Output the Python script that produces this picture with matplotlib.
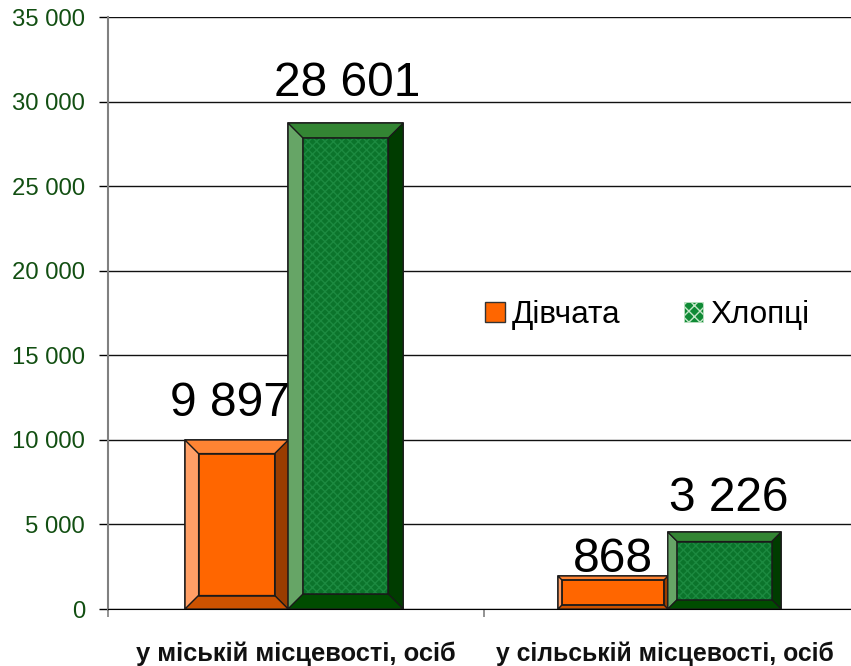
import matplotlib
matplotlib.use('Agg')
import matplotlib.pyplot as plt
from matplotlib.patches import Polygon, Patch

plt.rcParams['font.family'] = ['Liberation Sans', 'DejaVu Sans']
plt.rcParams['hatch.linewidth'] = 1.0

# data
categories = ['у міській місцевості, осіб', 'у сільській місцевості, осіб']
series = ['Дівчата', 'Хлопці']
girls_height = [9990, 1950]
boys_height = [28730, 4550]
girls_labels = ['9 897', '868']
boys_labels = ['28 601', '3 226']
y_ticks = [0, 5000, 10000, 15000, 20000, 25000, 30000, 35000]
y_tick_labels = ['0', '5 000', '10 000', '15 000', '20 000', '25 000', '30 000', '35 000']

# styles: bar edges in category units, bevel size in pixels
girls_edges = [(0.205, 0.479), (1.197, 1.489)]
boys_edges = [(0.479, 0.785), (1.489, 1.790)]
girls_bevel = [13.5, 4]
boys_bevel = [15, 9.5]
girls_offset = [(-7, 24), (0, 4)]
boys_offset = [(2, 27), (4, 21)]
orange = dict(face='#FF6600', left='#FF9F66', top='#FF8433', right='#993D00', bottom='#CC5200', hatch=None, dots=None)
green = dict(face='#0B742B', left='#66A566', top='#338533', right='#003C00', bottom='#004C00', hatch='xxxx', dots='#1C8A40')

PX_X = 376.0
PX_Y = 592.0 / 35000
EDGE = '#1A1A1A'

fig = plt.figure(figsize=(8.51, 6.66), dpi=100)
ax = fig.add_axes([108 / 851, 57 / 666, 743 / 851, 592 / 666])
ax.set_xlim(0, 743 / PX_X)
ax.set_ylim(0, 35000)


def draw_bar(x0, x1, h, bevel, st):
    dx = bevel / PX_X
    dy = bevel / PX_Y
    ax.bar(x0, h, x1 - x0, align='edge', color=st['face'], edgecolor=EDGE, linewidth=1.2, zorder=3)
    ix0, ix1, iy0, iy1 = x0 + dx, x1 - dx, dy, h - dy
    sides = {
        'left': [(x0, 0), (ix0, iy0), (ix0, iy1), (x0, h)],
        'right': [(x1, 0), (ix1, iy0), (ix1, iy1), (x1, h)],
        'top': [(x0, h), (ix0, iy1), (ix1, iy1), (x1, h)],
        'bottom': [(x0, 0), (ix0, iy0), (ix1, iy0), (x1, 0)],
    }
    for name, pts in sides.items():
        ax.add_patch(Polygon(pts, closed=True, facecolor=st[name], edgecolor=EDGE, linewidth=0.9, zorder=4))
    if st['hatch']:
        ax.add_patch(Polygon([(ix0, iy0), (ix1, iy0), (ix1, iy1), (ix0, iy1)], closed=True,
                             facecolor=st['face'], edgecolor=st['dots'], hatch=st['hatch'], linewidth=0, zorder=4))
    ax.add_patch(Polygon([(ix0, iy0), (ix1, iy0), (ix1, iy1), (ix0, iy1)], closed=True,
                         fill=False, edgecolor=EDGE, linewidth=1.1, zorder=5))


def draw_label(x0, x1, h, text, off):
    ax.annotate(text, ((x0 + x1) / 2, h), xytext=(off[0] * 0.72, off[1] * 0.72), textcoords='offset points',
                ha='center', va='baseline', fontsize=34.5, color='black', zorder=6)


for i in range(len(categories)):
    draw_bar(girls_edges[i][0], girls_edges[i][1], girls_height[i], girls_bevel[i], orange)
    draw_bar(boys_edges[i][0], boys_edges[i][1], boys_height[i], boys_bevel[i], green)
    draw_label(girls_edges[i][0], girls_edges[i][1], girls_height[i], girls_labels[i], girls_offset[i])
    draw_label(boys_edges[i][0], boys_edges[i][1], boys_height[i], boys_labels[i], boys_offset[i])

ax.set_yticks(y_ticks)
ax.set_yticklabels(y_tick_labels, fontsize=17.2, color='#124F12')
ax.set_xticks([0, 1])
ax.set_xticklabels([])
ax.tick_params(axis='y', length=6.5, width=1, pad=10, color='black')
ax.tick_params(axis='x', length=6, width=1.2, color='#808080')
ax.grid(axis='y', color='#111111', linewidth=1)
ax.set_axisbelow(True)
ax.spines['top'].set_visible(False)
ax.spines['right'].set_visible(False)
ax.spines['left'].set_color('#808080')
ax.spines['left'].set_linewidth(1.5)

# category names
ax.text(0.5, -0.0755, categories[0], transform=ax.get_xaxis_transform(), ha='center', va='center',
        fontsize=18.4, fontweight='bold', color='#111111')
ax.text(1.48, -0.0755, categories[1], transform=ax.get_xaxis_transform(), ha='center', va='center',
        fontsize=17.8, fontweight='bold', color='#111111')

handles = [Patch(facecolor=orange['face'], edgecolor='#333333', label=series[0]),
           Patch(facecolor='#0F8A35', edgecolor='#C4E6C8', hatch='xxx', linewidth=0.5, label=series[1])]
leg = ax.legend(handles=handles, ncol=2, frameon=False, fontsize=22.7, handlelength=0.63, handleheight=0.63,
                handletextpad=0.22, columnspacing=2.0, loc='center', bbox_to_anchor=(0.7258, 0.4965),
                bbox_transform=ax.transAxes)

fig.savefig('out.png', dpi=100)
